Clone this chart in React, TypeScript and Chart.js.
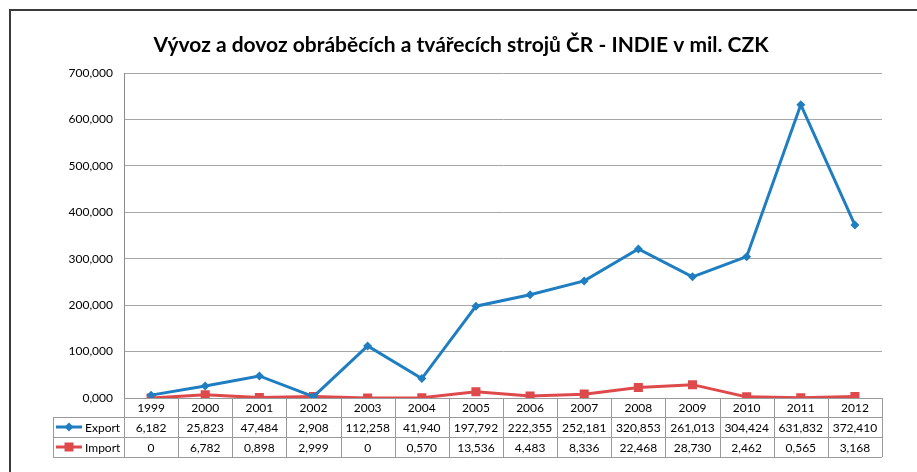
import React, { useEffect, useRef } from "react";
import { Chart, registerables } from "chart.js";

Chart.register(...registerables);

const TITLE = "Vývoz a dovoz obráběcích a tvářecích strojů ČR - INDIE v mil. CZK";
const years = ["1999", "2000", "2001", "2002", "2003", "2004", "2005", "2006", "2007", "2008", "2009", "2010", "2011", "2012"];
const exportValues = [6.182, 25.823, 47.484, 2.908, 112.258, 41.94, 197.792, 222.355, 252.181, 320.853, 261.013, 304.424, 631.832, 372.41];
const importValues = [0, 6.782, 0.898, 2.999, 0, 0.57, 13.536, 4.483, 8.336, 22.468, 28.73, 2.462, 0.565, 3.168];
const seriesNames = ["Export", "Import"];
const seriesColors = ["#1F7EC1", "#DE4A4B"];
const yMax = 700;
const yStep = 100;

const FONT = "Lato, 'Liberation Sans', sans-serif";

function fmt(v: number, table: boolean): string {
  if (table && v === 0) return "0";
  return v.toFixed(3).replace(".", ",");
}

const tablePlugin = {
  id: "dataTable",
  afterDraw(chart: any) {
    const ctx = chart.ctx as CanvasRenderingContext2D;
    const area = chart.chartArea;
    const x = chart.scales.x;
    const rowH = 20;
    const top = area.bottom;
    const r1 = top + 19;
    const r2 = r1 + rowH;
    const r3 = r2 + rowH;
    const legendLeft = 53;
    const n = years.length;
    const cellW = (area.right - area.left) / n;

    ctx.save();
    // frame
    ctx.strokeStyle = "#3a3a3a";
    ctx.lineWidth = 2;
    ctx.beginPath();
    ctx.moveTo(10, 472);
    ctx.lineTo(10, 10);
    ctx.lineTo(917, 10);
    ctx.stroke();

    // title
    ctx.fillStyle = "#000";
    ctx.font = `bold 21px ${FONT}`;
    ctx.textAlign = "center";
    ctx.textBaseline = "alphabetic";
    ctx.fillText(TITLE, 461, 52);

    // grid of table
    ctx.strokeStyle = "#9a9a9a";
    ctx.lineWidth = 1;
    ctx.beginPath();
    for (const yy of [r1, r2, r3]) {
      ctx.moveTo(legendLeft, Math.round(yy) + 0.5);
      ctx.lineTo(area.right, Math.round(yy) + 0.5);
    }
    ctx.moveTo(area.left, Math.round(top) + 0.5);
    ctx.lineTo(area.right, Math.round(top) + 0.5);
    ctx.moveTo(legendLeft + 0.5, r1);
    ctx.lineTo(legendLeft + 0.5, r3);
    for (let i = 0; i <= n; i++) {
      const bx = Math.round(area.left + i * cellW) + 0.5;
      ctx.moveTo(bx, top);
      ctx.lineTo(bx, r3);
    }
    ctx.stroke();

    // texts
    ctx.fillStyle = "#000";
    ctx.font = `12px ${FONT}`;
    ctx.textAlign = "center";
    ctx.textBaseline = "middle";
    years.forEach((yr, i) => {
      const cx = x.getPixelForValue(i);
      ctx.fillText(yr, cx, (top + r1) / 2 + 1);
      ctx.fillText(fmt(exportValues[i], true), cx, (r1 + r2) / 2 + 1);
      ctx.fillText(fmt(importValues[i], true), cx, (r2 + r3) / 2 + 1);
    });

    // legend keys
    const rows = [(r1 + r2) / 2, (r2 + r3) / 2];
    rows.forEach((cy, k) => {
      ctx.strokeStyle = seriesColors[k];
      ctx.lineWidth = 3;
      ctx.beginPath();
      ctx.moveTo(56, cy);
      ctx.lineTo(82, cy);
      ctx.stroke();
      ctx.fillStyle = seriesColors[k];
      ctx.beginPath();
      if (k === 0) {
        ctx.moveTo(69, cy - 4.5);
        ctx.lineTo(73.5, cy);
        ctx.lineTo(69, cy + 4.5);
        ctx.lineTo(64.5, cy);
        ctx.closePath();
      } else {
        ctx.rect(64.5, cy - 4.5, 9, 9);
      }
      ctx.fill();
      ctx.fillStyle = "#000";
      ctx.textAlign = "left";
      ctx.fillText(seriesNames[k], 85, cy + 1);
    });
    ctx.restore();
  },
};

export default function App() {
  const ref = useRef<HTMLCanvasElement>(null);
  useEffect(() => {
    document.body.style.margin = "0";
    const c = ref.current!;
    const chart = new Chart(c, {
      type: "line",
      data: {
        labels: years,
        datasets: [
          {
            label: seriesNames[0],
            data: exportValues,
            borderColor: seriesColors[0],
            backgroundColor: seriesColors[0],
            borderWidth: 3,
            pointStyle: "rectRot",
            pointRadius: 4.5,
            pointBorderWidth: 0,
            tension: 0,
          },
          {
            label: seriesNames[1],
            data: importValues,
            borderColor: seriesColors[1],
            backgroundColor: seriesColors[1],
            borderWidth: 3,
            pointStyle: "rect",
            pointRadius: 6.4,
            pointBorderWidth: 0,
            tension: 0,
          },
        ],
      },
      options: {
        responsive: false,
        animation: false,
        devicePixelRatio: 1,
        layout: { padding: { left: 0, top: 73, right: 35, bottom: 74 } },
        plugins: {
          legend: { display: false },
          title: { display: false },
          tooltip: { enabled: false },
        },
        scales: {
          x: {
            display: false,
            offset: true,
          },
          y: {
            min: 0,
            max: yMax,
            afterFit: (s: any) => {
              s.width = 124;
            },
            ticks: {
              stepSize: yStep,
              padding: 11,
              color: "#000",
              font: { family: FONT, size: 12 },
              callback: (v: any) => fmt(Number(v), false),
            },
            grid: { color: "#a6a6a6", drawTicks: false },
            border: { color: "#8c8c8c", width: 1 },
          },
        },
      },
      plugins: [tablePlugin],
    });
    return () => chart.destroy();
  }, []);
  return <canvas ref={ref} width={917} height={472} style={{ display: "block" }} />;
}
